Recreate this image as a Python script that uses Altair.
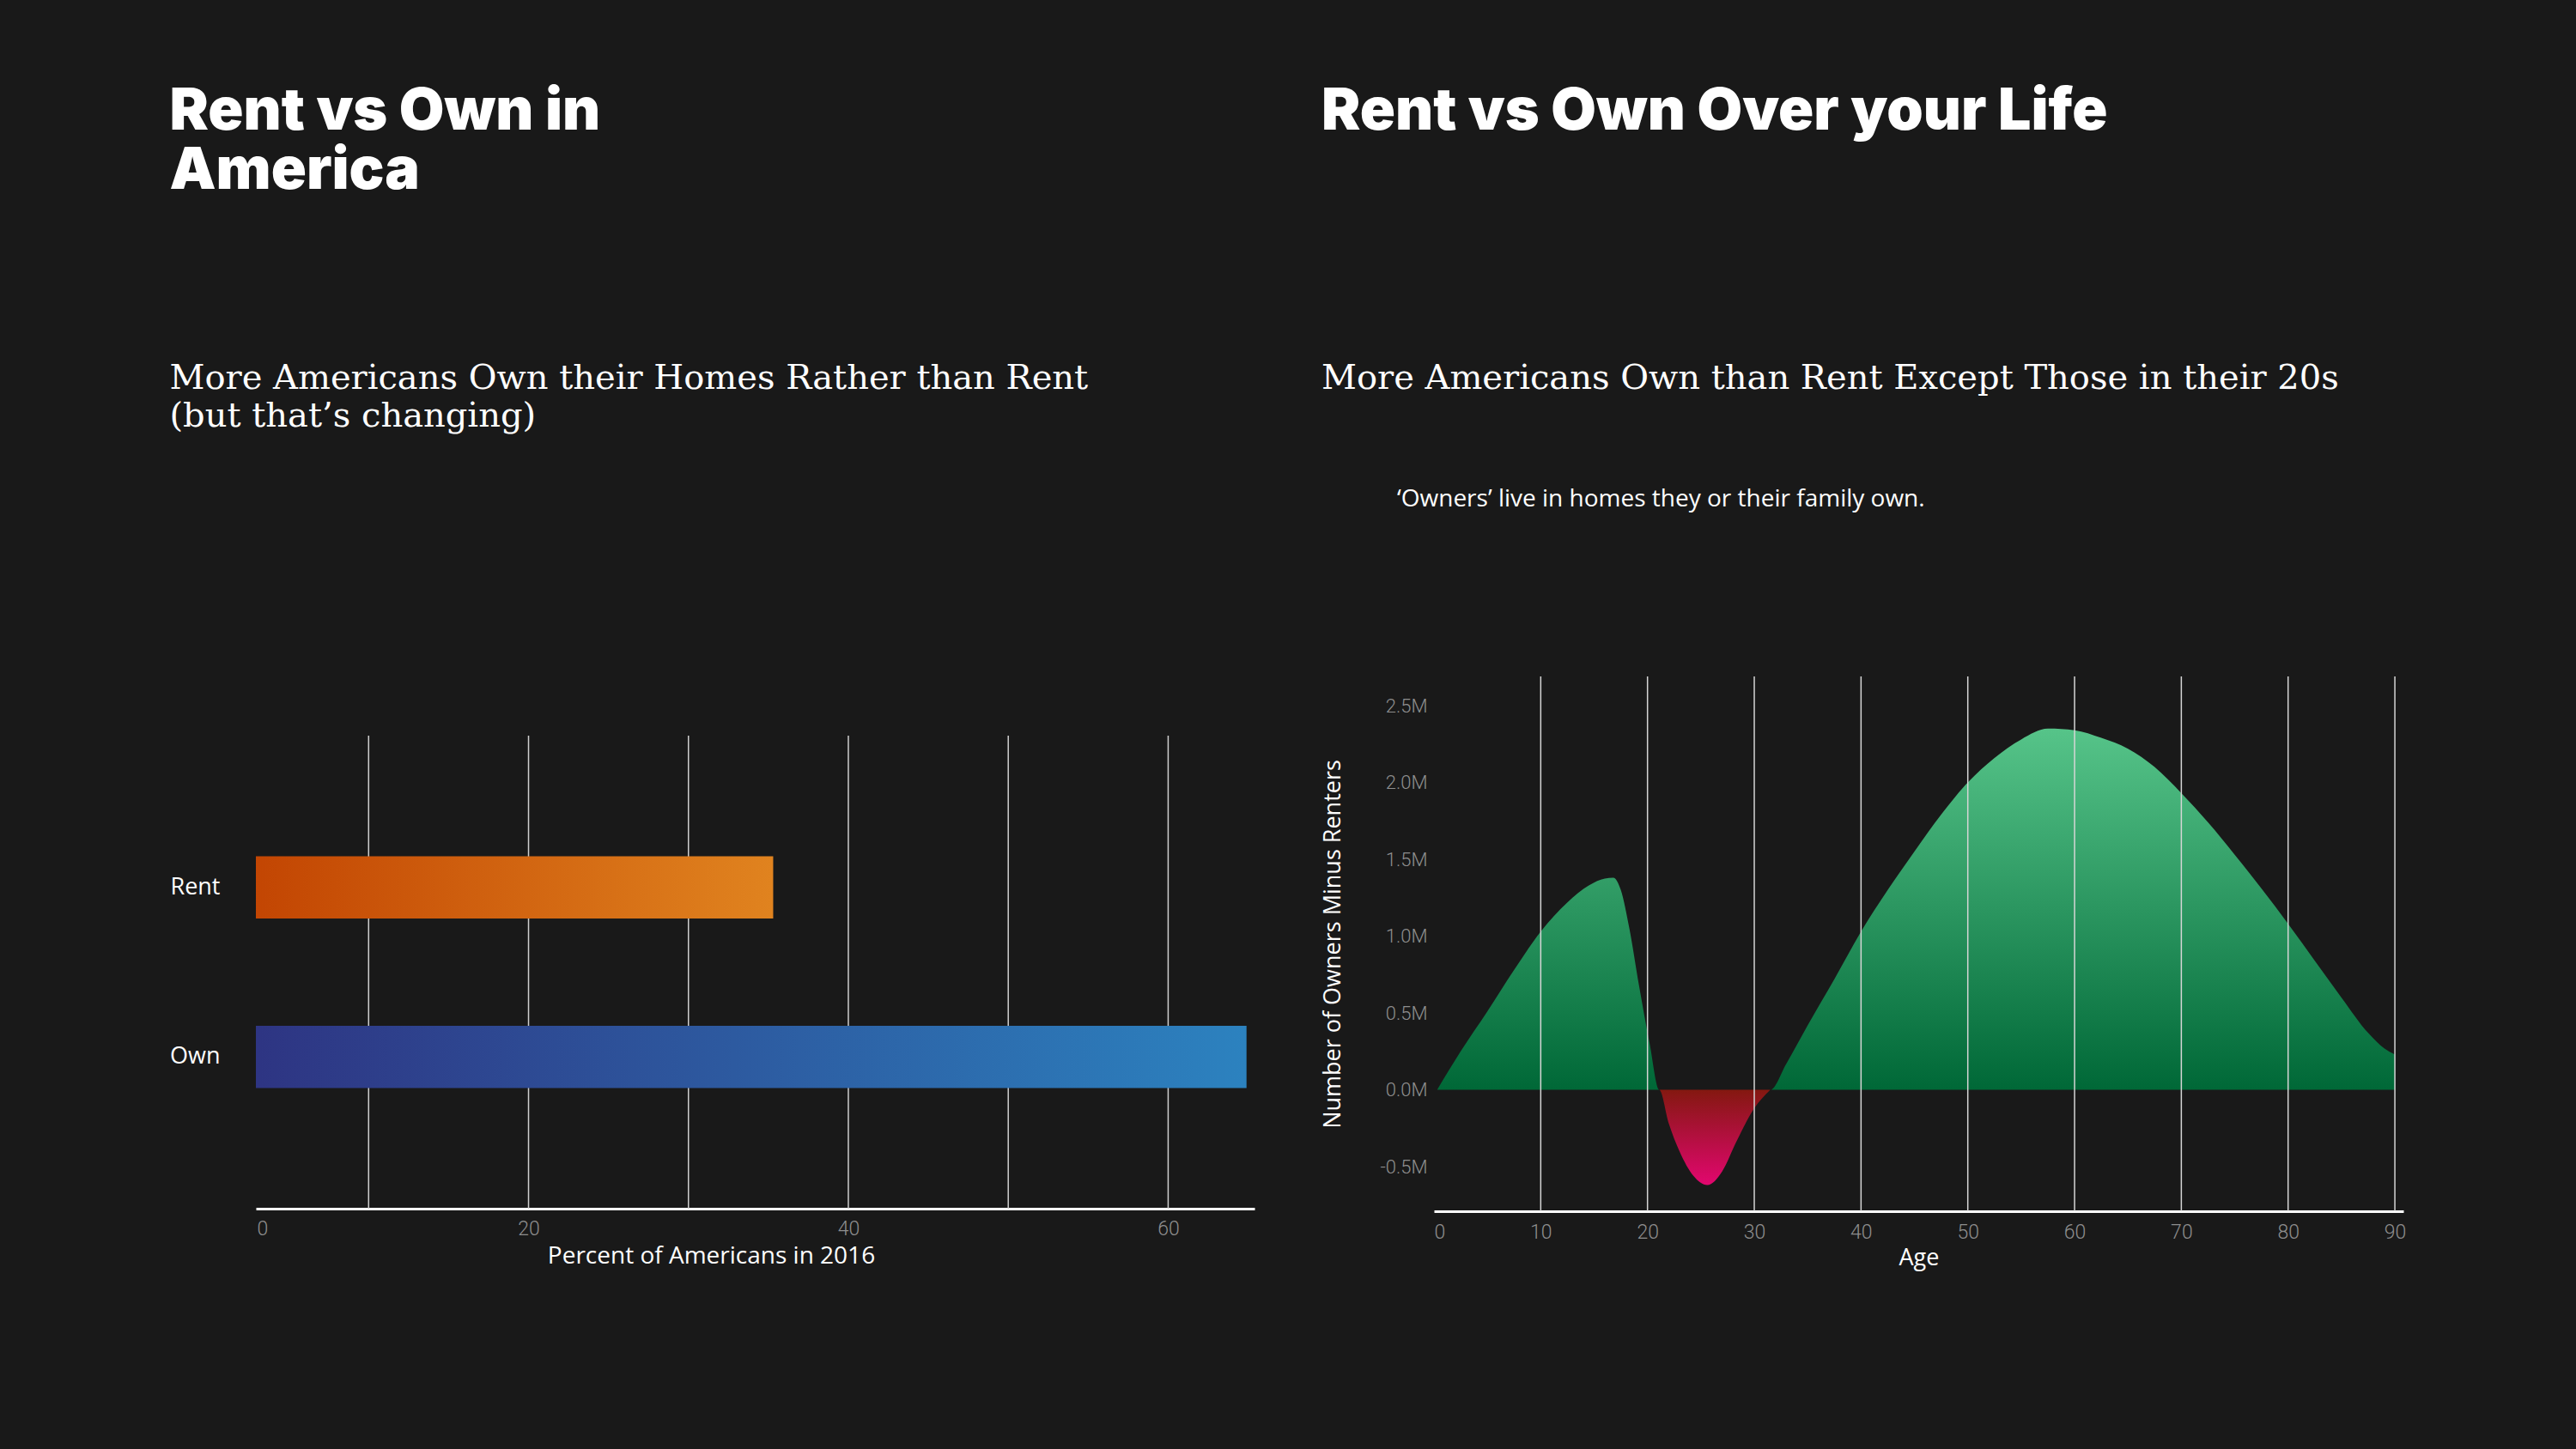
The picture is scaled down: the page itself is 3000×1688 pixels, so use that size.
import altair as alt
import pandas as pd

BG = "#191919"

# ---------------- data: left panel ----------------
TENURE = ["Rent", "Own"]
PERCENT_2016 = [35.3, 64.9]
LEFT_GRID = [10, 20, 30, 40, 50, 60]
LEFT_TICKS = [3, 20, 40, 60]

# ---------------- data: right panel ----------------
AGES = [0.3, 2.5, 5.0, 7.5, 10.0, 12.5, 14.5, 16.0, 16.8, 17.5, 18.3, 19.2, 20.2, 21.1,
        22.0, 23.0, 24.3, 25.6, 27.0, 28.3, 30.0, 31.5,
        33.0, 35.0, 37.5, 40.0, 42.5, 45.0, 47.5, 50.0, 52.5, 55.0, 57.5, 60.0, 62.5,
        65.0, 67.5, 70.0, 72.5, 75.0, 77.5, 80.0, 82.5, 85.0, 87.5, 89.0, 90.0]
NET_M = [0.0, 0.25, 0.51, 0.78, 1.03, 1.22, 1.33, 1.375, 1.38, 1.30, 1.05, 0.68, 0.30, 0.0,
         -0.22, -0.40, -0.56, -0.62, -0.53, -0.34, -0.12, 0.0,
         0.17, 0.42, 0.72, 1.03, 1.30, 1.55, 1.79, 2.00, 2.16, 2.28, 2.35, 2.34, 2.29,
         2.22, 2.10, 1.93, 1.74, 1.53, 1.31, 1.08, 0.84, 0.60, 0.37, 0.27, 0.23]
AGE_GRID = [10, 20, 30, 40, 50, 60, 70, 80, 90]
AGE_TICKS = [0, 10, 20, 30, 40, 50, 60, 70, 80, 90]
NET_TICKS = [-0.5, 0.0, 0.5, 1.0, 1.5, 2.0, 2.5]
NOTE = "\u2018Owners\u2019 live in homes they or their family own."

TEXT_FONT = "Open Sans"
TICK_FONT = "Roboto"
LABEL_GRAY = "#8e8e8e"


def hgrad(c0, c1):
    return alt.Gradient(gradient="linear", x1=0, y1=0, x2=1, y2=0,
                        stops=[alt.GradientStop(offset=0, color=c0),
                               alt.GradientStop(offset=1, color=c1)])


def vgrad(c0, c1):
    return alt.Gradient(gradient="linear", x1=0, y1=0, x2=0, y2=1,
                        stops=[alt.GradientStop(offset=0, color=c0),
                               alt.GradientStop(offset=1, color=c1)])


def title_params(text, subtitle, sub_pad, offset):
    return alt.TitleParams(
        text=text, subtitle=subtitle,
        anchor="start", frame="bounds", orient="top",
        font="Inter", fontSize=68, fontWeight=900, lineHeight=69, color="white",
        subtitleFont="DejaVu Serif", subtitleFontSize=40, subtitleLineHeight=44,
        subtitleColor="white", subtitleFontWeight="normal",
        subtitlePadding=sub_pad, offset=offset,
    )


# ---------------- left panel ----------------
bars_df = pd.DataFrame({"tenure": TENURE, "pct": PERCENT_2016})
lgrid_df = pd.DataFrame({"pct": LEFT_GRID})

x_left = alt.X(
    "pct:Q",
    scale=alt.Scale(domain=[2.95, 65.4], nice=False, zero=False),
    axis=alt.Axis(values=LEFT_TICKS, labelExpr="datum.value < 10 ? '0' : datum.label",
                  grid=False, ticks=False, domainColor="white", domainWidth=3,
                  labelColor=LABEL_GRAY, labelFont=TICK_FONT, labelFontWeight=300,
                  labelFontSize=23, labelPadding=12,
                  title="Percent of Americans in 2016", titleColor="white",
                  titleFont=TEXT_FONT, titleFontSize=28, titleFontWeight="normal",
                  titlePadding=6, titleX=530, titleAlign="center"),
)
y_left = alt.Y(
    "tenure:N",
    scale=alt.Scale(domain=TENURE, paddingInner=0.634, paddingOuter=0.712),
    axis=alt.Axis(domain=False, ticks=False, grid=False, labelColor="white",
                  labelFont=TEXT_FONT, labelFontSize=27, labelPadding=42,
                  labelFontWeight="normal", title=""),
)

lgrid = alt.Chart(lgrid_df).mark_rule(color="#cfcfcf", strokeWidth=1.5).encode(x=x_left)
rent_bar = alt.Chart(bars_df).transform_filter(alt.datum.tenure == "Rent").mark_bar(
    color=hgrad("#c04000", "#e0831f"), clip=True).encode(x=x_left, y=y_left)
own_bar = alt.Chart(bars_df).transform_filter(alt.datum.tenure == "Own").mark_bar(
    color=hgrad("#2e3180", "#2c82bf"), clip=True).encode(x=x_left, y=y_left)

left = alt.layer(lgrid, rent_bar, own_bar).properties(
    width=1163, height=551,
    title=title_params(["Rent vs Own in", "America"],
                       ["More Americans Own their Homes Rather than Rent",
                        "(but that\u2019s changing)"], 187, 351),
)

# ---------------- right panel ----------------
life_df = pd.DataFrame({"age": AGES, "net": NET_M})
life_df["own_side"] = life_df["net"].clip(lower=0)
life_df["rent_side"] = life_df["net"].clip(upper=0)
rgrid_df = pd.DataFrame({"age": AGE_GRID})

x_right = alt.X(
    "age:Q",
    scale=alt.Scale(domain=[0, 90.8], nice=False, zero=False),
    axis=alt.Axis(values=AGE_TICKS, grid=False, ticks=False, domainColor="white",
                  domainWidth=3, labelColor=LABEL_GRAY, labelFont=TICK_FONT,
                  labelFontWeight=300, labelFontSize=23, labelPadding=13,
                  title="Age", titleColor="white", titleFont=TEXT_FONT,
                  titleFontSize=27, titleFontWeight="normal", titlePadding=5),
)
y_scale = alt.Scale(domain=[-0.79, 2.69], nice=False, zero=False)
y_axis = alt.Axis(values=NET_TICKS, labelExpr="replace(format(datum.value, '.1f'), '\u2212', '-') + 'M'",
                  grid=False, ticks=False, domain=False, labelColor=LABEL_GRAY,
                  labelFont=TICK_FONT, labelFontWeight=300, labelFontSize=22,
                  labelPadding=8, title="Number of Owners Minus Renters",
                  titleColor="white", titleFont=TEXT_FONT, titleFontSize=27,
                  titleFontWeight="normal", titlePadding=40)

own_area = alt.Chart(life_df).mark_area(
    interpolate="monotone", color=vgrad("#56c489", "#006837")).encode(
    x=x_right, y=alt.Y("own_side:Q", scale=y_scale, axis=y_axis, stack=None),
    y2=alt.datum(0))
rent_area = alt.Chart(life_df).transform_filter(
    (alt.datum.age >= 20) & (alt.datum.age <= 32)).mark_area(
    interpolate="monotone", color=vgrad("#841810", "#e2076f")).encode(
    x=x_right, y=alt.Y("rent_side:Q", scale=y_scale, axis=y_axis, stack=None),
    y2=alt.datum(0))
rgrid = alt.Chart(rgrid_df).mark_rule(color="#d6d6d6", strokeWidth=1.5).encode(x=x_right)
note = alt.Chart(pd.DataFrame({"note": [NOTE]})).mark_text(
    align="left", baseline="alphabetic", font=TEXT_FONT, fontSize=28,
    color="white").encode(text="note:N", x=alt.value(-43), y=alt.value(-198))

right = alt.layer(own_area, rent_area, rgrid, note).properties(
    width=1129, height=623,
    title=title_params("Rent vs Own Over your Life",
                       "More Americans Own than Rent Except Those in their 20s", 256, 107),
)


# invisible 1px spacers so each column is stacked on its own (titles share a top line)
def spacer():
    return alt.Chart(pd.DataFrame({"s": [0]})).mark_point(opacity=0, size=1).encode(
        x=alt.value(0), y=alt.value(0)).properties(width=1, height=1)


chart = alt.concat(spacer(), spacer(), left, right, columns=2,
                   spacing={"row": 0, "column": 76}, align="none").configure(
    background=BG,
    padding={"left": 197, "top": 93, "right": 197, "bottom": 210},
).configure_view(stroke="transparent")

chart.save("out.html", embed_options={"renderer": "svg", "actions": False})
